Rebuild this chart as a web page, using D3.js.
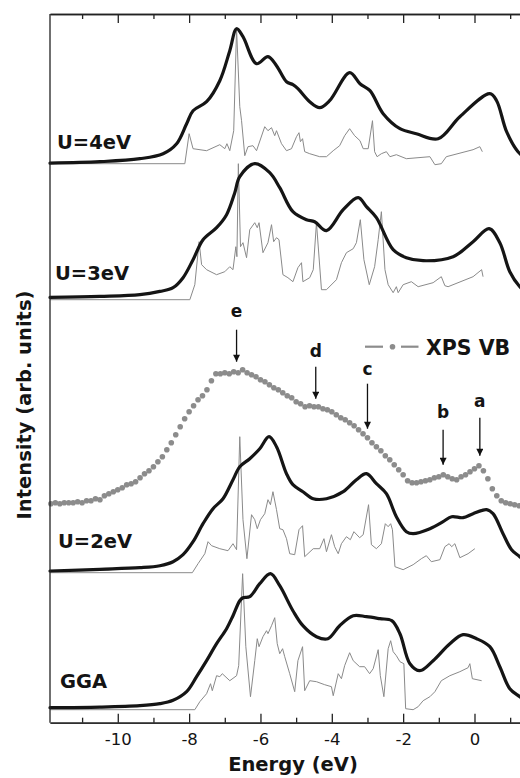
<!DOCTYPE html>
<html><head><meta charset="utf-8">
<script src="https://cdn.jsdelivr.net/npm/d3@7"></script>
<style>
body{margin:0;background:#fff}
svg{display:block}
text{font-family:"DejaVu Sans",sans-serif;font-weight:bold;fill:#141414}
text.tk{font-weight:normal}
</style></head>
<body><svg id="chart" width="520" height="778"></svg>
<script>
// ---------------- DATA ----------------
const majorTicks = [-10, -8, -6, -4, -2, 0];
const minorTicks = [-11, -9, -7, -5, -3, -1, 1];

const panelNames = ["U=4eV", "U=3eV", "U=2eV", "GGA"];
const panelOffsets = [55.9, 42.3, 15.0, 1.3];

// broadened DOS (thick) [energy, intensity above panel baseline]
const thickU4 = [[-11.9,0.06],[-10.5,0.2],[-9.38,0.5],[-8.73,1.0],[-8.35,2.0],[-8.07,4.0],[-7.89,5.3],[-7.51,6.2],[-7.14,8.3],[-6.86,11.3],[-6.67,13.5],[-6.49,12.7],[-6.11,10.0],[-5.79,10.7],[-5.55,9.8],[-5.27,8.2],[-5.09,7.9],[-4.95,7.5],[-4.62,6.2],[-4.34,5.6],[-4.06,6.3],[-3.50,9.1],[-3.21,8.0],[-2.93,7.3],[-2.56,5.0],[-2.09,3.5],[-1.63,3.0],[-1.02,2.5],[-0.41,4.7],[0.43,7.0],[0.62,6.3],[0.90,3.2],[1.22,1.2],[1.5,0.4]];
const thickU3 = [[-11.9,0.23],[-10.5,0.33],[-9.38,0.5],[-8.82,0.83],[-8.45,1.2],[-8.17,2.2],[-7.89,4.0],[-7.61,6.0],[-7.23,7.2],[-6.95,8.5],[-6.72,10.7],[-6.58,12.3],[-6.16,13.6],[-5.74,12.7],[-5.46,11.2],[-5.09,8.8],[-4.71,8.0],[-4.48,7.8],[-4.15,6.9],[-3.68,9.0],[-3.26,10.2],[-3.03,9.3],[-2.75,8.2],[-2.28,5.0],[-1.91,4.2],[-1.44,3.9],[-0.60,4.3],[-0.04,5.8],[0.41,7.1],[0.71,5.7],[0.99,2.8],[1.27,1.3],[1.5,0.6]];
const thickU2 = [[-11.9,0.17],[-10.5,0.34],[-9.38,0.5],[-8.82,0.7],[-8.45,1.1],[-8.17,1.8],[-7.89,3.1],[-7.61,4.9],[-7.33,6.4],[-7.05,7.4],[-6.77,9.3],[-6.58,10.6],[-6.30,11.4],[-6.02,12.4],[-5.76,13.6],[-5.55,12.6],[-5.27,9.9],[-5.09,8.8],[-4.81,8.1],[-4.52,7.4],[-4.15,7.4],[-3.68,8.1],[-3.31,9.3],[-3.03,9.9],[-2.75,8.9],[-2.47,7.9],[-2.19,5.6],[-1.91,4.1],[-1.72,3.9],[-1.25,4.4],[-0.88,5.1],[-0.64,5.6],[-0.32,5.5],[-0.04,5.9],[0.34,6.3],[0.52,5.9],[0.80,3.9],[1.04,2.3],[1.27,1.6],[1.5,0.8]];
const thickGGA = [[-11.9,0.2],[-10.5,0.26],[-9.38,0.4],[-8.82,0.6],[-8.45,0.94],[-8.07,1.8],[-7.79,3.3],[-7.51,4.9],[-7.23,6.6],[-6.95,8.1],[-6.77,9.4],[-6.58,10.9],[-6.49,11.2],[-6.30,11.3],[-6.02,12.6],[-5.72,13.6],[-5.46,12.4],[-5.09,9.9],[-4.81,8.4],[-4.43,7.3],[-4.11,7.1],[-3.78,8.4],[-3.40,9.4],[-3.03,9.3],[-2.65,9.1],[-2.32,8.9],[-2.09,7.6],[-1.81,4.6],[-1.53,3.9],[-1.16,4.9],[-0.69,6.6],[-0.32,7.5],[0.06,7.1],[0.43,6.3],[0.71,4.3],[0.99,2.1],[1.27,1.3],[1.5,0.7]];

// raw DOS (thin grey)
const grayU4 = [[-11.9,0],[-8.12,0],[-8.0,3.0],[-7.89,1.5],[-7.51,1.3],[-7.14,1.9],[-7.0,1.5],[-6.94,2.0],[-6.86,1.3],[-6.75,3.3],[-6.67,13.5],[-6.58,5.7],[-6.53,4.3],[-6.44,0.8],[-6.35,1.7],[-6.21,1.8],[-6.11,1.3],[-5.88,3.7],[-5.79,3.3],[-5.69,3.6],[-5.60,2.8],[-5.55,3.3],[-5.41,2.0],[-5.27,1.3],[-5.13,1.5],[-4.99,2.7],[-4.92,3.1],[-4.88,2.2],[-4.82,2.5],[-4.76,1.2],[-4.62,1.0],[-4.34,0.7],[-4.15,0.7],[-3.96,1.3],[-3.78,1.8],[-3.64,2.8],[-3.50,3.5],[-3.36,2.8],[-3.21,2.3],[-3.12,1.5],[-2.98,1.5],[-2.86,4.3],[-2.80,1.2],[-2.73,0.7],[-2.61,1.0],[-2.47,1.2],[-2.37,0.7],[-2.19,0.9],[-1.91,0.5],[-1.25,0.7],[-1.11,-0.1],[-0.93,0],[-0.79,0.7],[-0.04,1.4],[0.15,1.7],[0.22,1.2]];
const grayU3 = [[-11.9,0],[-7.98,0],[-7.84,1.5],[-7.72,5.8],[-7.65,3.5],[-7.51,3.0],[-7.23,2.5],[-7.0,2.8],[-6.86,3.3],[-6.77,3.0],[-6.69,5.3],[-6.66,4.3],[-6.62,13.6],[-6.56,5.3],[-6.49,5.7],[-6.39,4.2],[-6.30,7.0],[-6.16,7.7],[-6.09,7.2],[-6.04,7.7],[-5.93,4.7],[-5.79,5.7],[-5.69,7.5],[-5.63,5.8],[-5.55,6.2],[-5.48,6.0],[-5.37,2.5],[-5.23,2.2],[-5.09,1.8],[-4.95,3.2],[-4.85,3.7],[-4.81,1.8],[-4.62,2.2],[-4.52,3.0],[-4.43,7.7],[-4.29,1.0],[-4.15,1.0],[-3.87,2.0],[-3.73,3.7],[-3.59,4.7],[-3.40,5.1],[-3.31,5.7],[-3.20,8.0],[-3.10,4.0],[-2.95,1.5],[-2.80,3.3],[-2.70,6.0],[-2.61,8.8],[-2.51,3.0],[-2.42,1.5],[-2.28,0.7],[-2.19,1.3],[-2.14,0.7],[-2.00,1.5],[-1.77,1.8],[-1.58,1.3],[-1.16,1.7],[-0.93,2.3],[-0.83,1.4],[-0.74,1.3],[-0.04,2.3],[0.20,3.0],[0.24,2.3]];
const grayU2 = [[-11.9,0],[-7.91,0],[-7.75,0.9],[-7.56,1.9],[-7.47,3.1],[-7.37,2.7],[-7.14,2.4],[-6.91,2.2],[-6.77,2.9],[-6.67,2.3],[-6.58,13.6],[-6.49,5.3],[-6.38,1.4],[-6.25,5.8],[-6.16,5.3],[-6.09,4.4],[-6.00,5.3],[-5.88,5.9],[-5.79,7.3],[-5.72,6.8],[-5.65,8.1],[-5.55,6.3],[-5.46,4.4],[-5.37,4.3],[-5.27,3.4],[-5.18,1.9],[-5.04,1.8],[-4.92,4.3],[-4.82,4.7],[-4.76,1.6],[-4.52,2.4],[-4.34,2.4],[-4.22,3.4],[-4.15,2.1],[-4.01,3.8],[-3.92,2.6],[-3.82,1.9],[-3.73,2.9],[-3.59,3.6],[-3.48,3.3],[-3.38,4.1],[-3.22,3.5],[-3.12,3.8],[-2.97,6.8],[-2.89,2.8],[-2.75,2.4],[-2.61,2.9],[-2.50,4.9],[-2.42,4.6],[-2.35,4.9],[-2.30,4.3],[-2.23,0.6],[-2.00,0.3],[-1.72,0.8],[-1.49,1.4],[-1.35,1.7],[-1.21,1.1],[-0.97,1.3],[-0.83,2.6],[-0.71,2.9],[-0.64,2.6],[-0.55,2.9],[-0.41,1.5],[-0.18,1.9],[0.01,2.4]];
const grayGGA = [[-11.9,0],[-7.84,0],[-7.70,0.8],[-7.51,1.6],[-7.40,2.6],[-7.35,1.9],[-7.23,3.4],[-7.14,3.3],[-7.07,3.6],[-6.86,2.9],[-6.67,3.4],[-6.61,4.4],[-6.50,13.6],[-6.41,6.3],[-6.28,1.3],[-6.16,4.9],[-6.09,7.1],[-6.04,6.3],[-5.93,7.3],[-5.83,7.9],[-5.79,7.6],[-5.69,8.4],[-5.60,9.2],[-5.53,6.6],[-5.46,5.6],[-5.38,6.1],[-5.32,5.3],[-5.18,3.6],[-5.04,1.8],[-4.95,4.9],[-4.82,6.3],[-4.76,1.9],[-4.62,2.9],[-4.43,2.8],[-4.20,2.5],[-4.01,2.3],[-3.96,1.4],[-3.82,3.6],[-3.73,3.1],[-3.64,4.4],[-3.50,5.7],[-3.40,4.9],[-3.22,4.3],[-3.08,4.3],[-2.94,3.6],[-2.84,4.1],[-2.70,6.0],[-2.64,3.4],[-2.54,1.3],[-2.42,6.1],[-2.35,6.9],[-2.28,5.8],[-2.19,5.4],[-2.09,4.8],[-1.98,4.6],[-1.93,0.1],[-1.72,0],[-1.58,0.3],[-1.44,0.9],[-1.25,1.3],[-1.11,1.8],[-0.93,2.9],[-0.69,3.4],[-0.41,3.8],[-0.18,4.2],[-0.13,4.6],[-0.06,3.1],[0.20,2.9]];

// XPS valence band spectrum
const xpsEnergy = [-11.875,-11.75,-11.625,-11.5,-11.375,-11.25,-11.125,-11,-10.875,-10.75,-10.625,-10.5,-10.375,-10.25,-10.125,-10,-9.875,-9.75,-9.625,-9.5,-9.375,-9.25,-9.125,-9,-8.875,-8.75,-8.625,-8.5,-8.375,-8.25,-8.125,-8,-7.875,-7.75,-7.625,-7.5,-7.375,-7.25,-7.125,-7,-6.875,-6.75,-6.625,-6.5,-6.375,-6.25,-6.125,-6,-5.875,-5.75,-5.625,-5.5,-5.375,-5.25,-5.125,-5,-4.875,-4.75,-4.625,-4.5,-4.375,-4.25,-4.125,-4,-3.875,-3.75,-3.625,-3.5,-3.375,-3.25,-3.125,-3,-2.875,-2.75,-2.625,-2.5,-2.375,-2.25,-2.125,-2,-1.875,-1.75,-1.625,-1.5,-1.375,-1.25,-1.125,-1,-0.875,-0.75,-0.625,-0.5,-0.375,-0.25,-0.125,0,0.125,0.25,0.375,0.5,0.625,0.75,0.875,1,1.125,1.25,1.375,1.5];
const xpsIntensity = [21.9,22.0,21.9,22.0,22.0,22.0,22.1,22.0,22.2,22.2,22.4,22.3,22.7,22.9,23.1,23.3,23.5,23.8,23.9,24.1,24.5,24.9,25.2,25.6,26.1,26.6,27.3,28.0,28.8,29.6,30.4,31.1,31.7,32.3,32.7,33.3,34.2,34.9,34.9,35.0,34.9,35.1,35.0,35.3,35.0,34.8,34.6,34.3,34.1,33.8,33.5,33.3,33.0,32.7,32.5,32.1,31.9,31.6,31.7,31.6,31.6,31.4,31.3,31.1,30.8,30.5,30.3,30.0,29.7,29.3,28.9,28.5,28.0,27.6,27.2,26.7,26.3,25.8,25.3,24.8,24.2,24.0,24.0,24.1,24.2,24.3,24.5,24.6,24.8,24.6,24.4,24.3,24.6,24.8,25.1,25.4,25.7,25.2,24.4,23.4,22.7,22.2,22.0,21.9,21.8,21.7,21.6,21.6];

// XPS feature markers
const featureLabels = ["e", "d", "c", "b", "a"];
const featureEnergy = [-6.67, -4.45, -3.0, -0.88, 0.15];
const featureArrowTop = [39.3, 35.6, 33.9, 29.3, 30.5];
const featureArrowTip = [36.1, 32.4, 29.4, 25.8, 26.7];
const featureLabelLevel = [40.6, 36.6, 34.8, 30.5, 31.6];

// ---------------- CHART ----------------
const svg = d3.select("#chart");
const L = 50, T = 14, B = 722.7, R = 528;
const x = d3.scaleLinear().domain([-11.9, 1.5]).range([L, R]);
const y = d3.scaleLinear().domain([0, 70.87]).range([B, T]);

const thick = [thickU4, thickU3, thickU2, thickGGA];
const gray = [grayU4, grayU3, grayU2, grayGGA];

const lineGen = (off, curve) => d3.line().x(d => x(d[0])).y(d => y(d[1] + off)).curve(curve);

// thin raw DOS
gray.forEach((g, i) => {
  svg.append("path").attr("d", lineGen(panelOffsets[i], d3.curveLinear)(g))
    .attr("fill", "none").attr("stroke", "#8a8a8a").attr("stroke-width", 1)
    .attr("stroke-linejoin", "round");
});
// thick broadened DOS
thick.forEach((g, i) => {
  svg.append("path").attr("d", lineGen(panelOffsets[i], d3.curveCatmullRom.alpha(0.5))(g))
    .attr("fill", "none").attr("stroke", "#151515").attr("stroke-width", 3.2)
    .attr("stroke-linejoin", "round").attr("stroke-linecap", "round");
});

// XPS dots
svg.append("g").selectAll("circle").data(xpsEnergy).join("circle")
  .attr("cx", d => x(d)).attr("cy", (d, i) => y(xpsIntensity[i]))
  .attr("r", 2.8).attr("fill", "#8c8c8c");

// panel labels
const labelPos = [[57, 149.3], [55, 280], [58, 548.3], [60, 688]];
panelNames.forEach((n, i) => {
  svg.append("text").attr("x", labelPos[i][0]).attr("y", labelPos[i][1])
    .attr("font-size", 19.5).text(n);
});

// arrows
const defs = svg.append("defs");
defs.append("marker").attr("id", "ah").attr("viewBox", "0 0 10 10")
  .attr("refX", 10).attr("refY", 5).attr("markerWidth", 10).attr("markerHeight", 7)
  .attr("markerUnits", "userSpaceOnUse").attr("orient", "auto")
  .append("path").attr("d", "M0,0 L10,5 L0,10 Z").attr("fill", "#111");
featureLabels.forEach((lab, i) => {
  const xx = x(featureEnergy[i]);
  svg.append("line").attr("x1", xx).attr("x2", xx)
    .attr("y1", y(featureArrowTop[i])).attr("y2", y(featureArrowTip[i]))
    .attr("stroke", "#111").attr("stroke-width", 1.3).attr("marker-end", "url(#ah)");
  svg.append("text").attr("x", xx).attr("y", y(featureLabelLevel[i]))
    .attr("text-anchor", "middle").attr("font-size", 17).text(lab);
});

// legend
const lg = svg.append("g");
lg.append("line").attr("x1", 365).attr("x2", 383).attr("y1", 346.7).attr("y2", 346.7)
  .attr("stroke", "#8c8c8c").attr("stroke-width", 2.2);
lg.append("line").attr("x1", 401).attr("x2", 418.5).attr("y1", 346.7).attr("y2", 346.7)
  .attr("stroke", "#8c8c8c").attr("stroke-width", 2.2);
lg.append("circle").attr("cx", 392.5).attr("cy", 346.7).attr("r", 2.8).attr("fill", "#8c8c8c");
lg.append("text").attr("x", 426).attr("y", 355).attr("font-size", 20.5).text("XPS VB");

// axes
const axB = svg.append("g").attr("transform", `translate(0,${B})`)
  .call(d3.axisBottom(x).tickValues(majorTicks).tickSize(-9).tickSizeOuter(0).tickPadding(10.5)
    .tickFormat(d => String(d)));
axB.selectAll("text").attr("class", "tk").attr("font-size", 16.5).attr("fill", "#141414");
svg.append("g").attr("transform", `translate(0,${B})`)
  .call(d3.axisBottom(x).tickValues(minorTicks).tickSize(-5).tickSizeOuter(0).tickFormat(""));
svg.append("g").attr("transform", `translate(0,${T})`)
  .call(d3.axisTop(x).tickValues(majorTicks).tickSize(-9).tickSizeOuter(0).tickFormat(""));
svg.append("g").attr("transform", `translate(0,${T})`)
  .call(d3.axisTop(x).tickValues(minorTicks).tickSize(-5).tickSizeOuter(0).tickFormat(""));
svg.selectAll(".domain, .tick line").attr("stroke", "#222").attr("stroke-width", 1.3);
svg.append("line").attr("x1", L).attr("x2", L).attr("y1", T).attr("y2", B)
  .attr("stroke", "#222").attr("stroke-width", 1.3);

// axis titles
svg.append("text").attr("x", 293).attr("y", 770.7).attr("text-anchor", "middle")
  .attr("font-size", 19.5).text("Energy (eV)");
svg.append("text").attr("transform", "translate(31,405) rotate(-90)").attr("text-anchor", "middle")
  .attr("font-size", 19.5).text("Intensity (arb. units)");
</script></body></html>
